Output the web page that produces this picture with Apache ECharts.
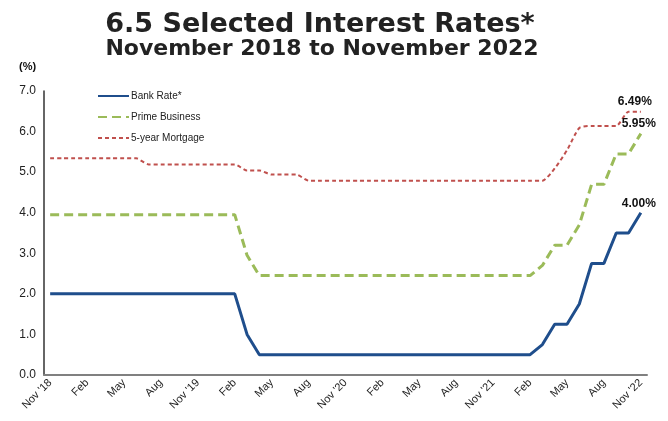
<!DOCTYPE html>
<html>
<head>
<meta charset="utf-8">
<script src="https://cdn.jsdelivr.net/npm/echarts@6/dist/echarts.min.js"></script>
<style>
  html, body { margin: 0; padding: 0; background: #fff; }
  #chart { width: 668px; height: 421px; }
</style>
</head>
<body>
<div id="chart"></div>
<script>
// monthly categories, Nov 2018 .. Nov 2022
const months = [
  "Nov '18", 'Dec', 'Jan', 'Feb', 'Mar', 'Apr', 'May', 'Jun', 'Jul', 'Aug', 'Sep', 'Oct',
  "Nov '19", 'Dec', 'Jan', 'Feb', 'Mar', 'Apr', 'May', 'Jun', 'Jul', 'Aug', 'Sep', 'Oct',
  "Nov '20", 'Dec', 'Jan', 'Feb', 'Mar', 'Apr', 'May', 'Jun', 'Jul', 'Aug', 'Sep', 'Oct',
  "Nov '21", 'Dec', 'Jan', 'Feb', 'Mar', 'Apr', 'May', 'Jun', 'Jul', 'Aug', 'Sep', 'Oct',
  "Nov '22"
];

const bankRate = [
  2.0, 2.0, 2.0, 2.0, 2.0, 2.0, 2.0, 2.0, 2.0, 2.0, 2.0, 2.0,
  2.0, 2.0, 2.0, 2.0, 1.0, 0.5, 0.5, 0.5, 0.5, 0.5, 0.5, 0.5,
  0.5, 0.5, 0.5, 0.5, 0.5, 0.5, 0.5, 0.5, 0.5, 0.5, 0.5, 0.5,
  0.5, 0.5, 0.5, 0.5, 0.75, 1.25, 1.25, 1.75, 2.75, 2.75, 3.5, 3.5,
  4.0
];

const primeBusiness = [
  3.95, 3.95, 3.95, 3.95, 3.95, 3.95, 3.95, 3.95, 3.95, 3.95, 3.95, 3.95,
  3.95, 3.95, 3.95, 3.95, 2.95, 2.45, 2.45, 2.45, 2.45, 2.45, 2.45, 2.45,
  2.45, 2.45, 2.45, 2.45, 2.45, 2.45, 2.45, 2.45, 2.45, 2.45, 2.45, 2.45,
  2.45, 2.45, 2.45, 2.45, 2.70, 3.20, 3.20, 3.70, 4.70, 4.70, 5.45, 5.45,
  5.95
];

const mortgage5y = [
  5.34, 5.34, 5.34, 5.34, 5.34, 5.34, 5.34, 5.34, 5.19, 5.19, 5.19, 5.19,
  5.19, 5.19, 5.19, 5.19, 5.04, 5.04, 4.94, 4.94, 4.94, 4.79, 4.79, 4.79,
  4.79, 4.79, 4.79, 4.79, 4.79, 4.79, 4.79, 4.79, 4.79, 4.79, 4.79, 4.79,
  4.79, 4.79, 4.79, 4.79, 4.79, 5.09, 5.54, 6.09, 6.14, 6.14, 6.14, 6.49,
  6.49
];

const yTicks = [0, 1, 2, 3, 4, 5, 6, 7];

const chart = echarts.init(document.getElementById('chart'));

// value label at the end of each line
function endLabel(offset) {
  return {
    show: true,
    align: 'center',
    verticalAlign: 'bottom',
    distance: 0,
    offset: offset,
    fontFamily: 'Liberation Sans',
    fontSize: 12,
    fontWeight: 'bold',
    color: '#111',
    formatter: p => p.value.toFixed(2) + '%'
  };
}

const option = {
  animation: false,
  backgroundColor: '#fff',
  textStyle: { fontFamily: 'Liberation Sans' },
  graphic: [
    {
      type: 'text', x: 320, y: 11,
      style: {
        text: '6.5 Selected Interest Rates*',
        font: 'bold 27px "DejaVu Sans"', fill: '#222', textAlign: 'center'
      }
    },
    {
      type: 'text', x: 322, y: 38,
      style: {
        text: 'November 2018 to November 2022',
        font: 'bold 22px "DejaVu Sans"', fill: '#222', textAlign: 'center'
      }
    },
    {
      type: 'text', x: 19, y: 61,
      style: { text: '(%)', font: 'bold 11px "Liberation Sans"', fill: '#111' }
    }
  ],
  legend: {
    orient: 'vertical',
    left: 92,
    top: 86,
    itemWidth: 31,
    itemHeight: 10,
    itemGap: 11,
    itemStyle: { opacity: 0 },
    textStyle: { fontSize: 10, color: '#222', padding: [0, 0, 0, -3] },
    data: ['Bank Rate*', 'Prime Business', '5-year Mortgage']
  },
  grid: { left: 44, right: 21, top: 91, bottom: 46 },
  xAxis: {
    type: 'category',
    data: months,
    boundaryGap: true,
    axisLine: { lineStyle: { color: '#808080', width: 2 } },
    axisTick: { show: false },
    axisLabel: {
      interval: 2,
      rotate: 45,
      fontSize: 11,
      color: '#222',
      margin: 6
    }
  },
  yAxis: {
    type: 'value',
    min: yTicks[0],
    max: yTicks[yTicks.length - 1],
    interval: 1,
    splitLine: { show: false },
    axisLine: { show: true, lineStyle: { color: '#333', width: 1.5 } },
    axisTick: { show: false },
    axisLabel: {
      fontSize: 12,
      color: '#222',
      margin: 8,
      formatter: v => v.toFixed(1)
    }
  },
  series: [
    {
      name: 'Bank Rate*',
      type: 'line',
      data: bankRate,
      symbol: 'none',
      color: '#1f4e8c',
      lineStyle: { color: '#1f4e8c', width: 3 },
      endLabel: endLabel([-2, -3]),
      z: 3
    },
    {
      name: 'Prime Business',
      type: 'line',
      data: primeBusiness,
      symbol: 'none',
      color: '#9bbb59',
      lineStyle: { color: '#9bbb59', width: 3, type: [9, 5] },
      endLabel: endLabel([-2, -4]),
      z: 2
    },
    {
      name: '5-year Mortgage',
      type: 'line',
      data: mortgage5y,
      symbol: 'none',
      smooth: 0.2,
      color: '#c0504d',
      lineStyle: { color: '#c0504d', width: 2, type: [4, 3] },
      endLabel: endLabel([-6, -4]),
      z: 1
    }
  ]
};

chart.setOption(option);
</script>
</body>
</html>
